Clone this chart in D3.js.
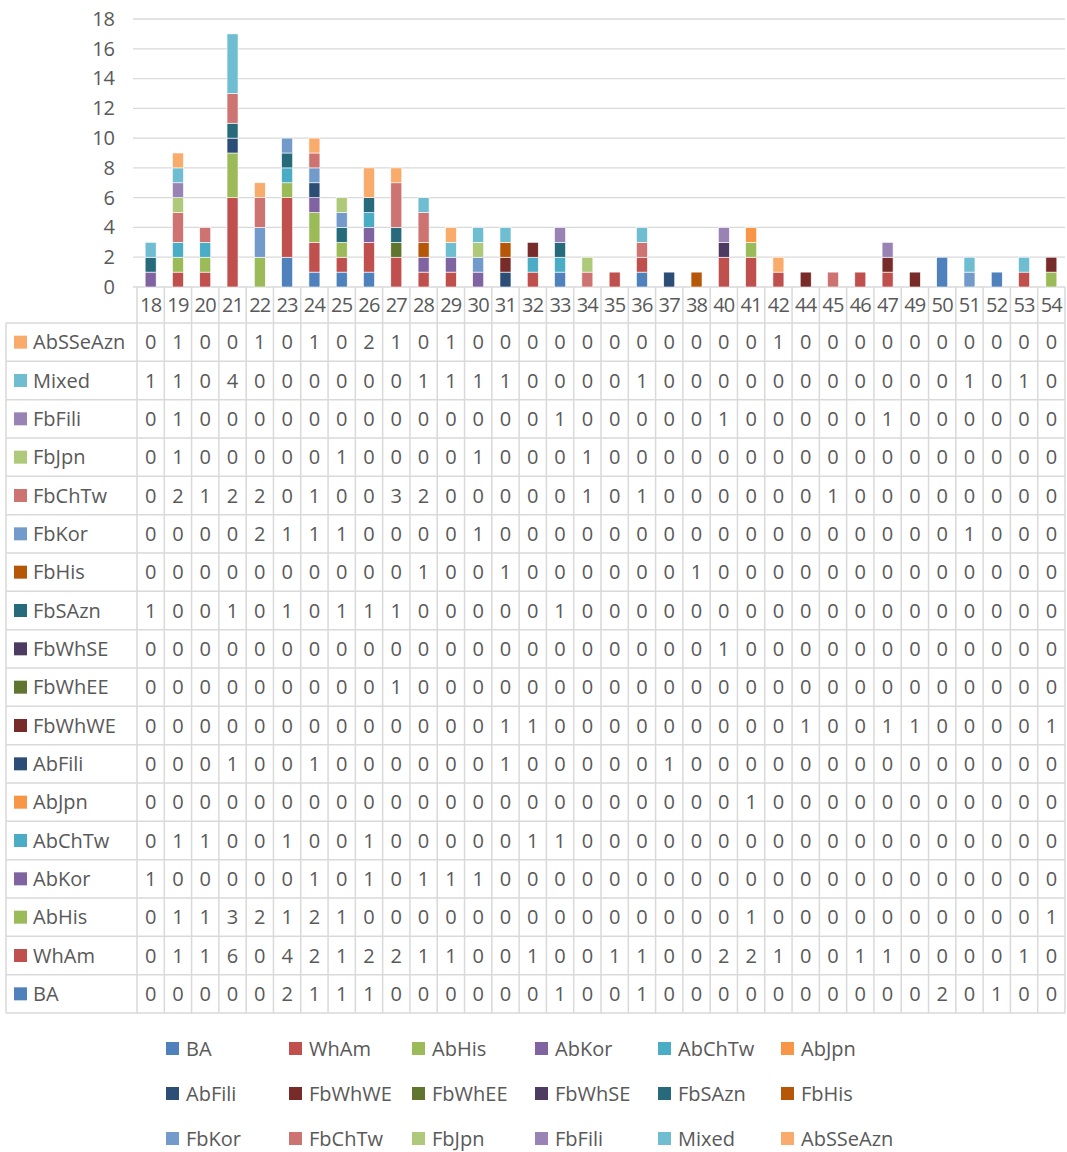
<!DOCTYPE html>
<html>
<head>
<meta charset="utf-8">
<script src="https://cdn.jsdelivr.net/npm/d3@7"></script>
<style>
  body { margin: 0; background: #fff; }
  text { font-family: "Open Sans", "Liberation Sans", sans-serif; fill: #595959; }
</style>
</head>
<body>
<div id="chart"></div>
<script>
// categories (x axis)
const categories = ["18","19","20","21","22","23","24","25","26","27","28","29","30","31","32","33","34","35","36","37","38","40","41","42","44","45","46","47","49","50","51","52","53","54"];

// series, stacking order from bottom
const seriesNames = ["BA","WhAm","AbHis","AbKor","AbChTw","AbJpn","AbFili","FbWhWE","FbWhEE","FbWhSE","FbSAzn","FbHis","FbKor","FbChTw","FbJpn","FbFili","Mixed","AbSSeAzn"];

const BA       = [0,0,0,0,0,2,1,1,1,0,0,0,0,0,0,1,0,0,1,0,0,0,0,0,0,0,0,0,0,2,0,1,0,0];
const WhAm     = [0,1,1,6,0,4,2,1,2,2,1,1,0,0,1,0,0,1,1,0,0,2,2,1,0,0,1,1,0,0,0,0,1,0];
const AbHis    = [0,1,1,3,2,1,2,1,0,0,0,0,0,0,0,0,0,0,0,0,0,0,1,0,0,0,0,0,0,0,0,0,0,1];
const AbKor    = [1,0,0,0,0,0,1,0,1,0,1,1,1,0,0,0,0,0,0,0,0,0,0,0,0,0,0,0,0,0,0,0,0,0];
const AbChTw   = [0,1,1,0,0,1,0,0,1,0,0,0,0,0,1,1,0,0,0,0,0,0,0,0,0,0,0,0,0,0,0,0,0,0];
const AbJpn    = [0,0,0,0,0,0,0,0,0,0,0,0,0,0,0,0,0,0,0,0,0,0,1,0,0,0,0,0,0,0,0,0,0,0];
const AbFili   = [0,0,0,1,0,0,1,0,0,0,0,0,0,1,0,0,0,0,0,1,0,0,0,0,0,0,0,0,0,0,0,0,0,0];
const FbWhWE   = [0,0,0,0,0,0,0,0,0,0,0,0,0,1,1,0,0,0,0,0,0,0,0,0,1,0,0,1,1,0,0,0,0,1];
const FbWhEE   = [0,0,0,0,0,0,0,0,0,1,0,0,0,0,0,0,0,0,0,0,0,0,0,0,0,0,0,0,0,0,0,0,0,0];
const FbWhSE   = [0,0,0,0,0,0,0,0,0,0,0,0,0,0,0,0,0,0,0,0,0,1,0,0,0,0,0,0,0,0,0,0,0,0];
const FbSAzn   = [1,0,0,1,0,1,0,1,1,1,0,0,0,0,0,1,0,0,0,0,0,0,0,0,0,0,0,0,0,0,0,0,0,0];
const FbHis    = [0,0,0,0,0,0,0,0,0,0,1,0,0,1,0,0,0,0,0,0,1,0,0,0,0,0,0,0,0,0,0,0,0,0];
const FbKor    = [0,0,0,0,2,1,1,1,0,0,0,0,1,0,0,0,0,0,0,0,0,0,0,0,0,0,0,0,0,0,1,0,0,0];
const FbChTw   = [0,2,1,2,2,0,1,0,0,3,2,0,0,0,0,0,1,0,1,0,0,0,0,0,0,1,0,0,0,0,0,0,0,0];
const FbJpn    = [0,1,0,0,0,0,0,1,0,0,0,0,1,0,0,0,1,0,0,0,0,0,0,0,0,0,0,0,0,0,0,0,0,0];
const FbFili   = [0,1,0,0,0,0,0,0,0,0,0,0,0,0,0,1,0,0,0,0,0,1,0,0,0,0,0,1,0,0,0,0,0,0];
const Mixed    = [1,1,0,4,0,0,0,0,0,0,1,1,1,1,0,0,0,0,1,0,0,0,0,0,0,0,0,0,0,0,1,0,1,0];
const AbSSeAzn = [0,1,0,0,1,0,1,0,2,1,0,1,0,0,0,0,0,0,0,0,0,0,0,1,0,0,0,0,0,0,0,0,0,0];

const seriesValues = [BA,WhAm,AbHis,AbKor,AbChTw,AbJpn,AbFili,FbWhWE,FbWhEE,FbWhSE,FbSAzn,FbHis,FbKor,FbChTw,FbJpn,FbFili,Mixed,AbSSeAzn];

const colors = ["#4F81BD","#C0504D","#9BBB59","#8064A2","#4BACC6","#F79646","#2C4D75","#772C2A","#5F7530","#4D3B62","#276A7C","#B65708","#729ACA","#CD7371","#AFC97A","#9983B5","#6FBDD1","#F9AB6B"];

const yTicks = [0,2,4,6,8,10,12,14,16,18];

// build table for d3.stack
const rows = categories.map((c, i) => {
  const r = { cat: c };
  seriesNames.forEach((s, j) => { r[s] = seriesValues[j][i]; });
  return r;
});

const W = 1067, H = 1152;
const plotLeft = 137, plotRight = 1065, plotTop = 19, plotBottom = 287;
const headerBottom = 323, tableBottom = 1013, tableLeft = 6;
const gridColor = "#D9D9D9";
const fs = "20px";

const svg = d3.select("#chart").append("svg")
  .attr("width", W)
  .attr("height", H);

const x = d3.scaleBand()
  .domain(categories)
  .range([plotLeft, plotRight]);

const y = d3.scaleLinear()
  .domain([0, 18])
  .range([plotBottom, plotTop]);

// gridlines
svg.append("g")
  .selectAll("line")
  .data(yTicks)
  .join("line")
  .attr("x1", plotLeft - 4)
  .attr("x2", plotRight)
  .attr("y1", d => y(d))
  .attr("y2", d => y(d))
  .attr("stroke", gridColor)
  .attr("stroke-width", 1.3);

// y axis labels
const yAxis = svg.append("g")
  .attr("transform", "translate(" + (plotLeft - 22) + ",0)")
  .call(d3.axisLeft(y).tickValues(yTicks).tickSize(0).tickPadding(0));
yAxis.select(".domain").remove();
yAxis.selectAll("text")
  .style("font-size", fs)
  .attr("fill", "#595959");

// stacked bars
const stack = d3.stack().keys(seriesNames);
const stacked = stack(rows);
const barW = 11;

svg.append("g")
  .selectAll("g")
  .data(stacked)
  .join("g")
  .attr("fill", (d, i) => colors[i])
  .selectAll("rect")
  .data(d => d.filter(p => p[1] - p[0] > 0))
  .join("rect")
  .attr("x", d => x(d.data.cat) + x.bandwidth() / 2 - barW / 2)
  .attr("y", d => y(d[1]))
  .attr("width", barW)
  .attr("height", d => y(d[0]) - y(d[1]))
  .attr("stroke", "#fff")
  .attr("stroke-width", 0.6);

// data table
const tableRows = seriesNames.slice().reverse();
const ty = d3.scaleBand()
  .domain(tableRows)
  .range([headerBottom, tableBottom]);

const table = svg.append("g");

// header (category labels)
table.selectAll("text.cat")
  .data(categories)
  .join("text")
  .attr("class", "cat")
  .attr("x", d => x(d) + x.bandwidth() / 2)
  .attr("y", (plotBottom + headerBottom) / 2)
  .attr("dy", "0.35em")
  .attr("text-anchor", "middle")
  .style("font-size", fs)
  .style("letter-spacing", "-0.8px")
  .text(d => d);

// horizontal lines
table.selectAll("line.h")
  .data(tableRows.map(r => ty(r)).concat([tableBottom]))
  .join("line")
  .attr("x1", tableLeft)
  .attr("x2", plotRight)
  .attr("y1", d => d)
  .attr("y2", d => d)
  .attr("stroke", gridColor)
  .attr("stroke-width", 1.5);

// vertical lines
const vx = categories.map(c => x(c)).concat([plotRight]);
table.selectAll("line.v")
  .data(vx)
  .join("line")
  .attr("x1", d => d)
  .attr("x2", d => d)
  .attr("y1", plotBottom)
  .attr("y2", tableBottom)
  .attr("stroke", gridColor)
  .attr("stroke-width", 1.5);

table.append("line")
  .attr("x1", tableLeft).attr("x2", tableLeft)
  .attr("y1", headerBottom).attr("y2", tableBottom)
  .attr("stroke", gridColor).attr("stroke-width", 1.5);

// row labels with swatches
const rowG = table.selectAll("g.row")
  .data(tableRows)
  .join("g")
  .attr("class", "row")
  .attr("transform", d => "translate(0," + (ty(d) + ty.bandwidth() / 2) + ")");

rowG.append("rect")
  .attr("x", 14)
  .attr("y", -6.5)
  .attr("width", 13)
  .attr("height", 13)
  .attr("fill", d => colors[seriesNames.indexOf(d)]);

rowG.append("text")
  .attr("x", 33)
  .attr("dy", "0.35em")
  .style("font-size", fs)
  .text(d => d);

// cell values
rowG.each(function(s) {
  const vals = seriesValues[seriesNames.indexOf(s)];
  d3.select(this).selectAll("text.v")
    .data(vals)
    .join("text")
    .attr("class", "v")
    .attr("x", (d, i) => x(categories[i]) + x.bandwidth() / 2)
    .attr("dy", "0.35em")
    .attr("text-anchor", "middle")
    .style("font-size", fs)
    .text(d => d);
});

// legend
const legCols = 6;
const legX = d3.scaleBand().domain(d3.range(legCols)).range([166, 904]);
const legY = d3.scaleBand().domain(d3.range(3)).range([1027, 1162]);

const leg = svg.append("g")
  .selectAll("g")
  .data(seriesNames)
  .join("g")
  .attr("transform", (d, i) => "translate(" + legX(i % legCols) + "," + (legY(Math.floor(i / legCols)) + legY.bandwidth() / 2 - 1) + ")");

leg.append("rect")
  .attr("x", 0)
  .attr("y", -6.5)
  .attr("width", 13)
  .attr("height", 13)
  .attr("fill", (d, i) => colors[i]);

leg.append("text")
  .attr("x", 20)
  .attr("dy", "0.35em")
  .style("font-size", fs)
  .text(d => d);
</script>
</body>
</html>
